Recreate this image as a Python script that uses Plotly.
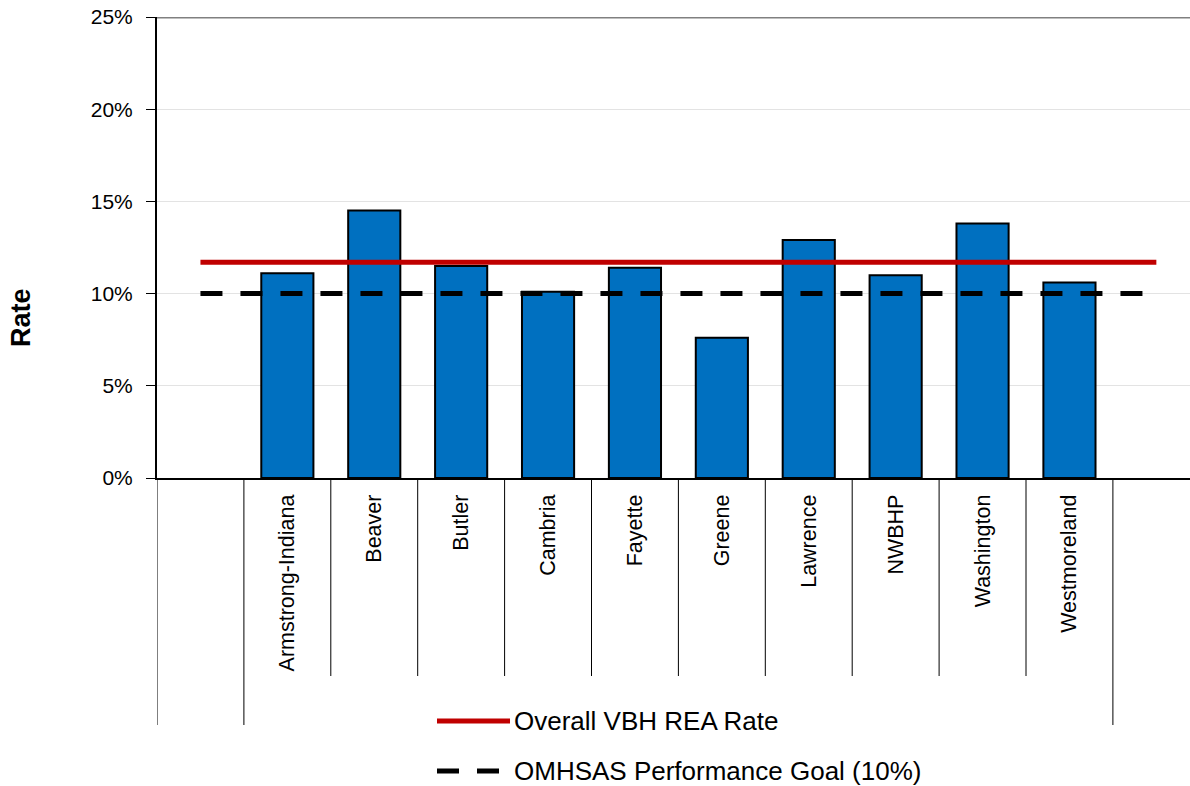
import plotly.graph_objects as go

# Readmission rates by region (percent)
regions = ["Armstrong-Indiana", "Beaver", "Butler", "Cambria", "Fayette",
           "Greene", "Lawrence", "NWBHP", "Washington", "Westmoreland"]
rates = [11.1, 14.5, 11.5, 10.1, 11.4, 7.6, 12.9, 11.0, 13.8, 10.6]

overall_name = "Overall VBH REA Rate"
overall_rate = 11.7
goal_name = "OMHSAS Performance Goal (10%)"
goal_rate = 10.0

y_ticks = [0, 5, 10, 15, 20, 25]
y_ticktext = [f"{v}%" for v in y_ticks]

# blank padding categories at both ends of the axis
categories = [" "] + regions + ["  "]

FONT = "Arial, Liberation Sans, sans-serif"

fig = go.Figure()

fig.add_trace(go.Bar(
    x=regions, y=rates,
    marker=dict(color="#0070C0", line=dict(color="#000000", width=2)),
    showlegend=False,
))

fig.add_trace(go.Scatter(
    x=categories, y=[overall_rate] * len(categories),
    mode="lines", name=overall_name,
    line=dict(color="#C00000", width=5),
    showlegend=False,
))

fig.add_trace(go.Scatter(
    x=categories, y=[goal_rate] * len(categories),
    mode="lines", name=goal_name,
    line=dict(color="#000000", width=5, dash="22px,18px"),
    showlegend=False,
))

W, H = 1190, 786
left, top, bottom = 157, 17, 308
plot_w = W - left
plot_h = H - top - bottom


def px_to_paper_y(py):
    return (H - bottom - py) / plot_h


def px_to_paper_x(px):
    return (px - left) / plot_w


shapes = []
# separators between category cells below the axis
n = len(categories)
for i in range(n):
    edge = i - 0.5
    long_tick = i in (0, 1, n - 1)
    shapes.append(dict(
        type="line", xref="x", yref="paper",
        x0=edge, x1=edge, y0=0,
        y1=px_to_paper_y(725 if long_tick else 676),
        line=dict(color="#000000", width=1),
    ))

# top frame line
shapes.append(dict(type="line", xref="paper", yref="y", x0=0, x1=1,
                   y0=25, y1=25, line=dict(color="#808080", width=3)))

# legend entries drawn below the chart
leg_x0, leg_x1 = px_to_paper_x(437), px_to_paper_x(510)
leg_rows = [
    (overall_name, dict(color="#C00000", width=5), 721),
    (goal_name, dict(color="#000000", width=5, dash="22px,18px"), 771),
]
annotations = []
for label, ln, py in leg_rows:
    yy = px_to_paper_y(py)
    shapes.append(dict(type="line", xref="paper", yref="paper",
                       x0=leg_x0, x1=leg_x1, y0=yy, y1=yy, line=ln))
    annotations.append(dict(
        text=label, xref="paper", yref="paper",
        x=px_to_paper_x(512), y=yy, xanchor="left", yanchor="middle",
        showarrow=False, font=dict(family=FONT, size=26, color="#000000"),
    ))

annotations.append(dict(
    text="<b>Rate</b>", xref="paper", yref="paper",
    x=px_to_paper_x(21), y=px_to_paper_y(318),
    xanchor="center", yanchor="middle", textangle=-90, showarrow=False,
    font=dict(family=FONT, size=27, color="#000000"),
))

fig.update_layout(
    width=W, height=H,
    margin=dict(l=left, r=0, t=top, b=bottom, pad=0),
    paper_bgcolor="#FFFFFF", plot_bgcolor="#FFFFFF",
    bargap=0.4,
    showlegend=False,
    font=dict(family=FONT, color="#000000"),
    shapes=shapes,
    annotations=annotations,
    xaxis=dict(
        type="category", categoryorder="array", categoryarray=categories,
        range=[-0.5, -0.5 + plot_w / 86.9],
        showline=True, linecolor="#000000", linewidth=2,
        showgrid=False, ticks="", tickangle=-90,
        tickfont=dict(family=FONT, size=21.5, color="#000000"),
        ticklabelstandoff=6,
        zeroline=False, fixedrange=True,
    ),
    yaxis=dict(
        range=[0, 25], tickvals=y_ticks, ticktext=y_ticktext,
        showline=True, linecolor="#000000", linewidth=2,
        ticks="outside", ticklen=9, tickwidth=1, tickcolor="#000000",
        showgrid=True, gridcolor="#E3E3E3", gridwidth=1,
        tickfont=dict(family=FONT, size=21, color="#000000"),
        ticklabelstandoff=9,
        zeroline=False, fixedrange=True,
    ),
)

fig.write_html("out.html")
